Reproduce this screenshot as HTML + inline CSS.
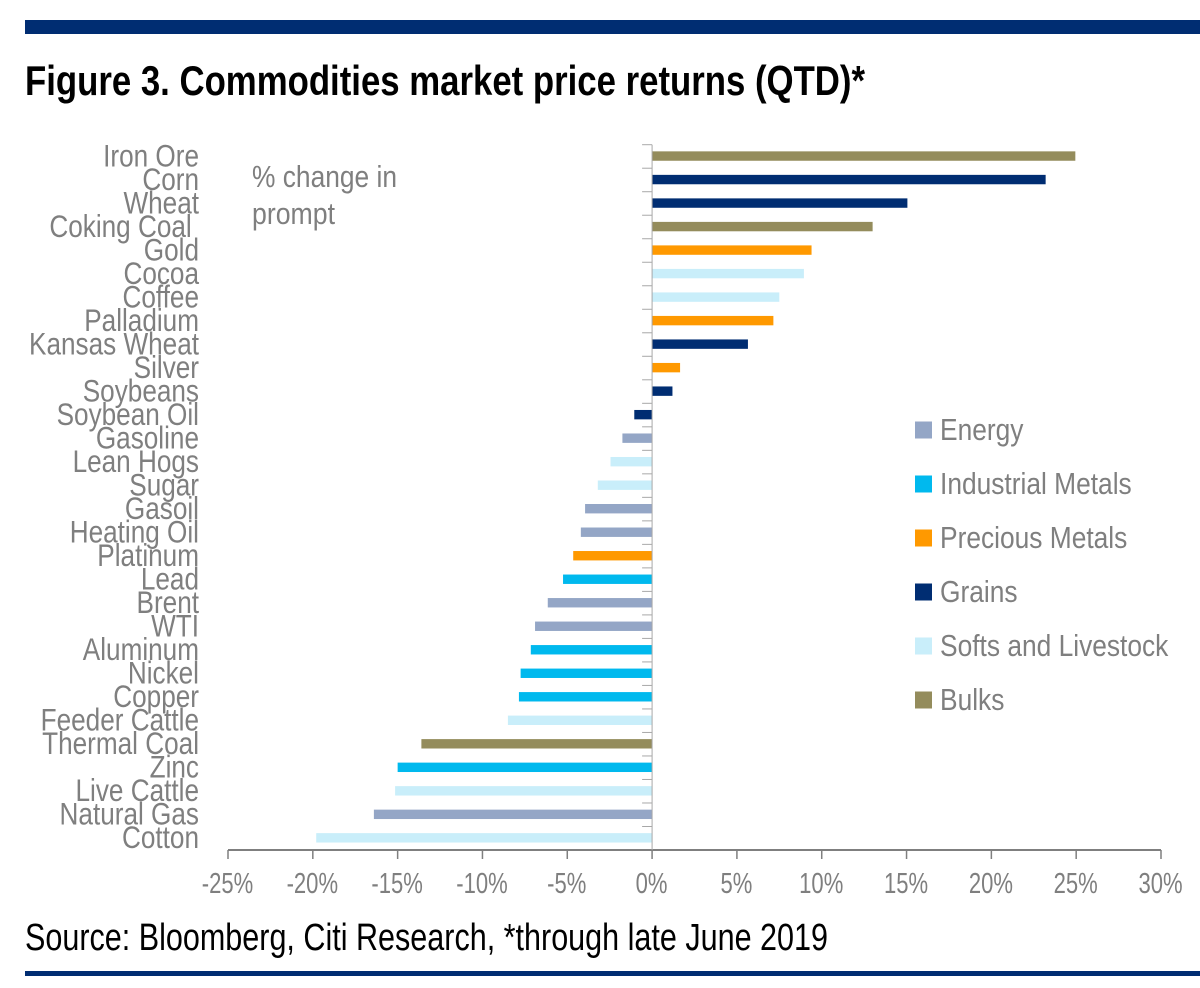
<!DOCTYPE html>
<html lang="en">
<head>
<meta charset="utf-8">
<title>Figure 3. Commodities market price returns (QTD)*</title>
<style>
html,body{margin:0;padding:0;background:#fff;}
svg{display:block;}
text{font-family:"Liberation Sans",sans-serif;}
.grey{fill:#7f7f7f;}
</style>
</head>
<body>
<svg id="chart" width="1200" height="988" viewBox="0 0 1200 988" xmlns="http://www.w3.org/2000/svg">
  <rect x="25" y="20" width="1175" height="14" fill="#002d72"/>
  <text x="25" y="95" font-size="42" font-weight="bold" fill="#000" textLength="840" lengthAdjust="spacingAndGlyphs">Figure 3. Commodities market price returns (QTD)*</text>
  <text class="grey" x="252" y="187" font-size="31" textLength="145" lengthAdjust="spacingAndGlyphs">% change in</text>
  <text class="grey" x="252" y="224" font-size="31" textLength="83" lengthAdjust="spacingAndGlyphs">prompt</text>
  <g id="bars"></g>
  <g id="axes"></g>
  <g id="legend"></g>
  <text x="25" y="950" font-size="38" fill="#000" textLength="803" lengthAdjust="spacingAndGlyphs">Source: Bloomberg, Citi Research, *through late June 2019</text>
  <rect x="25" y="971" width="1175" height="5" fill="#002d72"/>
</svg>
<script>
const categories = ["Iron Ore","Corn","Wheat","Coking Coal\u00a0","Gold","Cocoa","Coffee","Palladium","Kansas Wheat","Silver","Soybeans","Soybean Oil","Gasoline","Lean Hogs","Sugar","Gasoil","Heating Oil","Platinum","Lead","Brent","WTI","Aluminum","Nickel","Copper","Feeder Cattle","Thermal Coal","Zinc","Live Cattle","Natural Gas","Cotton"];
const values = [24.95,23.2,15.05,13.0,9.4,8.95,7.5,7.15,5.65,1.65,1.2,-1.05,-1.75,-2.45,-3.2,-3.95,-4.2,-4.65,-5.25,-6.15,-6.9,-7.15,-7.75,-7.85,-8.5,-13.6,-15.0,-15.15,-16.4,-19.8];
const sectors = ["Bulks","Grains","Grains","Bulks","Precious Metals","Softs and Livestock","Softs and Livestock","Precious Metals","Grains","Precious Metals","Grains","Grains","Energy","Softs and Livestock","Softs and Livestock","Energy","Energy","Precious Metals","Industrial Metals","Energy","Energy","Industrial Metals","Industrial Metals","Industrial Metals","Softs and Livestock","Bulks","Industrial Metals","Softs and Livestock","Energy","Softs and Livestock"];
const legendEntries = ["Energy","Industrial Metals","Precious Metals","Grains","Softs and Livestock","Bulks"];
const legendColors = ["#94a6c6","#00b9ee","#ff9900","#002d72","#c9eefa","#948c5c"];
const tickValues = [-25,-20,-15,-10,-5,0,5,10,15,20,25,30];
const tickLabels = ["-25%","-20%","-15%","-10%","-5%","0%","5%","10%","15%","20%","25%","30%"];

const NS = "http://www.w3.org/2000/svg";
const plotLeft = 228, plotRight = 1161, plotTop = 144.7, plotBottom = 850;
const barHeight = 9.4;
const bandHeight = (plotBottom - plotTop) / categories.length;

function xScale(v) {
  return plotLeft + (v - tickValues[0]) / (tickValues[tickValues.length - 1] - tickValues[0]) * (plotRight - plotLeft);
}
function yBand(i) {
  return plotTop + i * bandHeight;
}
function make(tag, attrs, parent) {
  const el = document.createElementNS(NS, tag);
  for (const k in attrs) el.setAttribute(k, attrs[k]);
  parent.appendChild(el);
  return el;
}
function colorOf(sector) {
  return legendColors[legendEntries.indexOf(sector)];
}

const barsG = document.getElementById("bars");
const axesG = document.getElementById("axes");
const legendG = document.getElementById("legend");

values.forEach(function (v, i) {
  const x0 = xScale(0), x1 = xScale(v);
  const bar = make("rect", {
    x: Math.min(x0, x1),
    y: yBand(i) + (bandHeight - barHeight) / 2 - 0.4,
    width: Math.abs(x1 - x0),
    height: barHeight,
    fill: colorOf(sectors[i])
  }, barsG);
  
  
});

const xAxisLine = make("line", {x1: plotLeft, x2: plotRight, y1: plotBottom, y2: plotBottom, stroke: "#7f7f7f", "stroke-width": 2}, axesG);



const yAxisLine = make("line", {x1: xScale(0), x2: xScale(0), y1: plotTop, y2: plotBottom, stroke: "#a8a8a8", "stroke-width": 1}, axesG);



tickValues.forEach(function (t, i) {
  const x = xScale(t);
  const tick = make("line", {x1: x, x2: x, y1: plotBottom, y2: plotBottom + 9, stroke: "#7f7f7f", "stroke-width": 1.5}, axesG);
  
  
  const label = make("text", {
    transform: "translate(" + (x - 0.5) + ",893) scale(0.76,1)",
    "text-anchor": "middle",
    "font-size": 29,
    class: "grey"
  }, axesG);
  
  
  label.textContent = tickLabels[i];
});

categories.forEach(function (c, i) {
  const y = yBand(i);
  const tick = make("line", {x1: xScale(0) - 10, x2: xScale(0), y1: y, y2: y, stroke: "#a8a8a8", "stroke-width": 1}, axesG);
  
  
  const label = make("text", {
    transform: "translate(199," + (y + bandHeight / 2 + 10) + ") scale(0.83,1)",
    "text-anchor": "end",
    "font-size": 31.5,
    class: "grey"
  }, axesG);
  
  
  label.textContent = c;
});

legendEntries.forEach(function (name, i) {
  const cy = 430 + i * 54;
  const swatch = make("rect", {x: 915, y: cy - 8.5, width: 17, height: 17, fill: legendColors[i]}, legendG);
  
  
  const label = make("text", {
    transform: "translate(940," + (cy + 10) + ") scale(0.85,1)",
    "font-size": 31,
    class: "grey"
  }, legendG);
  
  
  label.textContent = name;
});
</script>
</body>
</html>
